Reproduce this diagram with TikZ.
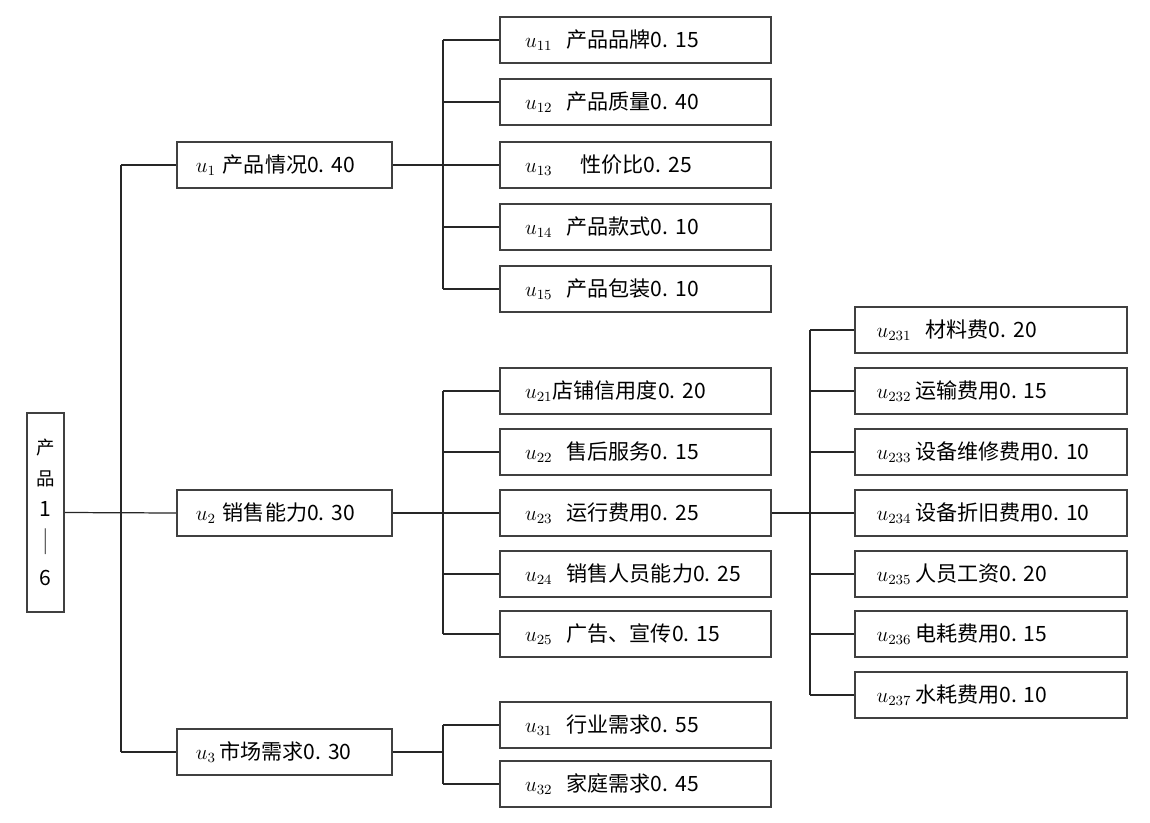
\documentclass[tikz,border=0pt]{standalone}
\usepackage{fontspec}
\setmainfont{Noto Sans CJK SC}[WordSpace=0.6]
\usepackage{amsmath}
\frenchspacing

\tikzset{
  box/.style={draw=black!75, line width=0.9pt, fill=white, minimum height=0.92cm,
    align=left, inner ysep=0pt, font=\fontsize{12}{14}\selectfont},
  boxa/.style={box, text width=3.55cm, inner xsep=0.38cm},
  boxb/.style={box, text width=4.42cm, inner xsep=0.5cm},
  boxc/.style={box, text width=4.58cm, inner xsep=0.43cm},
  rootbox/.style={draw=black!75, line width=0.9pt, fill=white, minimum width=0.74cm,
    minimum height=3.98cm, inner sep=0pt, align=center,
    font=\fontsize{10.5}{17.6}\selectfont},
  link/.style={line width=0.7pt, black!85}
}

\begin{document}
\begin{tikzpicture}[x=0.02cm, y=-0.02cm]
  \useasboundingbox[fill=white] (0,0) rectangle (1150,822);

  \node[rootbox] (root) at (45.5,512.5) {产\\品\\\large 1\\[2pt]\scalebox{1}[1.4]{｜}\\[2pt]\large 6};

  \node[boxa] (u1) at (284.5,165) {$u_1$\ 产品情况0. 40};
  \node[boxa] (u2) at (284.5,513) {$u_2$\ 销售能力0. 30};
  \node[boxa] (u3) at (284.5,752) {$u_3$\,市场需求0. 30};

  \node[boxb] (u11) at (635.5,40)  {$u_{11}$\ \ 产品品牌0. 15};
  \node[boxb] (u12) at (635.5,102) {$u_{12}$\ \ 产品质量0. 40};
  \node[boxb] (u13) at (635.5,165) {$u_{13}$\ \ \ \ 性价比0. 25};
  \node[boxb] (u14) at (635.5,227) {$u_{14}$\ \ 产品款式0. 10};
  \node[boxb] (u15) at (635.5,289) {$u_{15}$\ \ 产品包装0. 10};

  \node[boxb] (u21) at (635.5,391) {$u_{21}$店铺信用度0. 20};
  \node[boxb] (u22) at (635.5,452) {$u_{22}$\ \ 售后服务0. 15};
  \node[boxb] (u23) at (635.5,513) {$u_{23}$\ \ 运行费用0. 25};
  \node[boxb] (u24) at (635.5,574) {$u_{24}$\ \ 销售人员能力0. 25};
  \node[boxb] (u25) at (635.5,634) {$u_{25}$\ \ 广告、宣传0. 15};

  \node[boxb] (u31) at (635.5,725) {$u_{31}$\ \ 行业需求0. 55};
  \node[boxb] (u32) at (635.5,784) {$u_{32}$\ \ 家庭需求0. 45};

  \node[boxc] (u231) at (991,330) {$u_{231}$\ \ 材料费0. 20};
  \node[boxc] (u232) at (991,391) {$u_{232}$\,运输费用0. 15};
  \node[boxc] (u233) at (991,452) {$u_{233}$\,设备维修费用0. 10};
  \node[boxc] (u234) at (991,513) {$u_{234}$\,设备折旧费用0. 10};
  \node[boxc] (u235) at (991,574) {$u_{235}$\,人员工资0. 20};
  \node[boxc] (u236) at (991,634) {$u_{236}$\,电耗费用0. 15};
  \node[boxc] (u237) at (991,695) {$u_{237}$\,水耗费用0. 10};

  % trunks
  \coordinate (ta) at (121,0);
  \coordinate (tb) at (443,0);
  \coordinate (tc) at (810,0);

  \draw[link] (root.east) -- (u2.west);
  \draw[link] (ta |- u1.west) -- (ta |- u3.west);
  \foreach \n in {u1,u3}
    \draw[link] (ta |- \n.west) -- (\n.west);

  \draw[link] (u1.east) -- (tb |- u1.east);
  \draw[link] (tb |- u11.west) -- (tb |- u15.west);
  \foreach \n in {u11,u12,u13,u14,u15}
    \draw[link] (tb |- \n.west) -- (\n.west);

  \draw[link] (u2.east) -- (tb |- u2.east);
  \draw[link] (tb |- u21.west) -- (tb |- u25.west);
  \foreach \n in {u21,u22,u23,u24,u25}
    \draw[link] (tb |- \n.west) -- (\n.west);

  \draw[link] (u3.east) -- (tb |- u3.east);
  \draw[link] (tb |- u31.west) -- (tb |- u32.west);
  \foreach \n in {u31,u32}
    \draw[link] (tb |- \n.west) -- (\n.west);

  \draw[link] (u23.east) -- (tc |- u23.east);
  \draw[link] (tc |- u231.west) -- (tc |- u237.west);
  \foreach \n in {u231,u232,u233,u234,u235,u236,u237}
    \draw[link] (tc |- \n.west) -- (\n.west);
\end{tikzpicture}
\end{document}
